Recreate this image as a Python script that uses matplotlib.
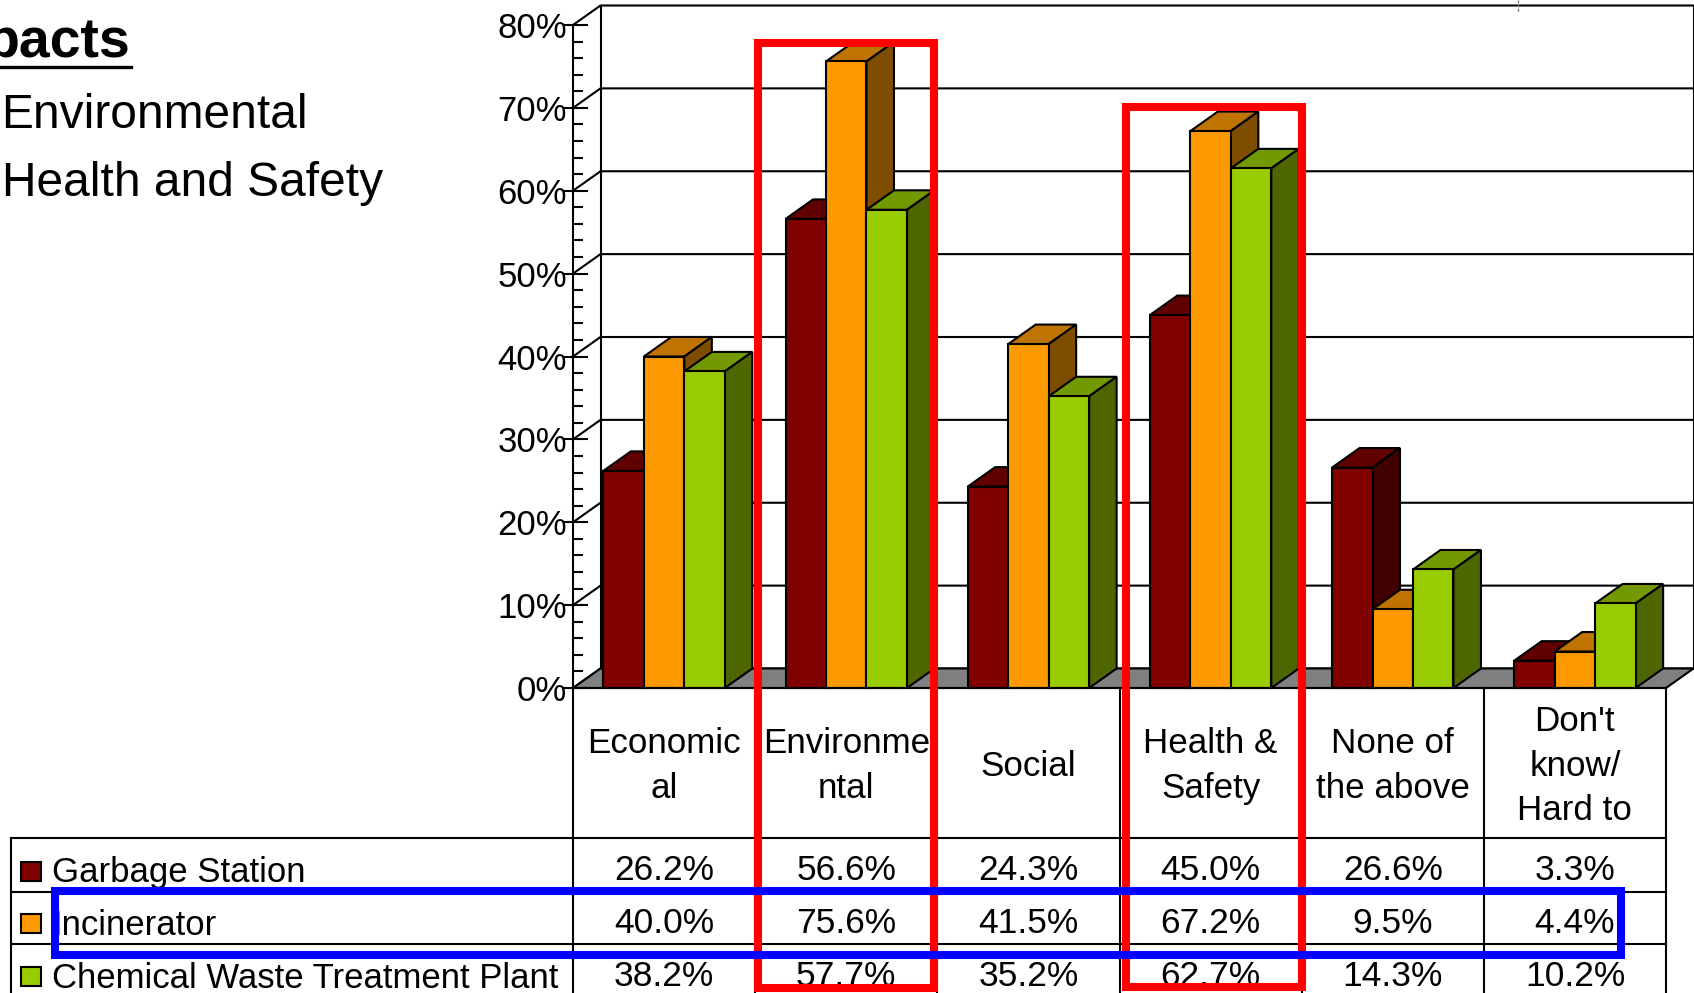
import matplotlib
matplotlib.use("Agg")
import matplotlib.pyplot as plt
from matplotlib.patches import Polygon, Rectangle
from matplotlib.ticker import MultipleLocator, FuncFormatter
from matplotlib.transforms import blended_transform_factory

plt.rcParams['font.family'] = ['Liberation Sans', 'DejaVu Sans']

categories = ["Economic\nal", "Environme\nntal", "Social", "Health &\nSafety",
              "None of\nthe above", "Don't\nknow/\nHard to"]
series_names = ["Garbage Station", "Incinerator", "Chemical Waste Treatment Plant"]
garbage = [26.2, 56.6, 24.3, 45.0, 26.6, 3.3]
incinerator = [40.0, 75.6, 41.5, 67.2, 9.5, 4.4]
chemical = [38.2, 57.7, 35.2, 62.7, 14.3, 10.2]
series_values = [garbage, incinerator, chemical]
impact_heading = "pacts"
impact_items = ["Environmental", "Health and Safety"]

front = ["#800000", "#FF9900", "#99CC00"]
top = ["#600000", "#BF7300", "#739900"]
side = ["#400000", "#7F4D00", "#4D6600"]

W, H = 1694, 993
fig = plt.figure(figsize=(W / 100, H / 100), dpi=100)
L, R, Y0, Y80 = 573, 1666, 688, 25
ax = fig.add_axes([L / W, 1 - Y0 / H, (R - L) / W, (Y0 - Y80) / H])
ax.set_xlim(0, 6)
ax.set_ylim(0, 80)
ax.patch.set_alpha(0)
px = 6 / (R - L)
py = 80 / (Y0 - Y80)
DX, DY = 27.5 * px, 19.5 * py
LW = 1.5

ov = fig.add_axes([0, 0, 1, 1], zorder=5)
ov.set_xlim(0, W)
ov.set_ylim(H, 0)
ov.axis("off")
ov.patch.set_alpha(0)

# walls and floor
ax.add_patch(Polygon([(0, 0), (DX, DY), (6 + DX, DY), (6, 0)], closed=True, fc="#808080",
                     ec="black", lw=LW, clip_on=False, zorder=1))
for v in range(0, 90, 10):
    ax.plot([0, DX, 6 + DX], [v, v + DY, v + DY], color="black", lw=LW, clip_on=False, zorder=0.5)
ax.plot([DX, DX], [DY, 80 + DY], color="black", lw=LW, clip_on=False, zorder=0.5)
ax.plot([6 + DX, 6 + DX], [DY, 80 + DY], color="black", lw=LW, clip_on=False, zorder=0.5)

# 3-D bars
bw = 1 / 4.5
z = 2
for c in range(len(categories)):
    x0 = c + 0.75 * bw
    for s, vals in enumerate(series_values):
        v = vals[c]
        a, b = x0 + s * bw, x0 + (s + 1) * bw
        for pts, col in (([(a, v), (a + DX, v + DY), (b + DX, v + DY), (b, v)], top[s]),
                         ([(b, 0), (b + DX, DY), (b + DX, v + DY), (b, v)], side[s]),
                         ([(a, 0), (a, v), (b, v), (b, 0)], front[s])):
            ax.add_patch(Polygon(pts, closed=True, fc=col, ec="black", lw=LW,
                                 joinstyle="miter", clip_on=False, zorder=z))
            z += 0.01

# axis
for sp in ("top", "right", "bottom"):
    ax.spines[sp].set_visible(False)
ax.spines["left"].set_linewidth(LW)
ax.set_xticks([])
ax.yaxis.set_major_locator(MultipleLocator(10))
ax.yaxis.set_minor_locator(MultipleLocator(2))
ax.yaxis.set_major_formatter(FuncFormatter(lambda v, p: f"{v:.0f}%"))
ax.tick_params(axis="y", which="major", direction="out", length=7.2, width=LW, pad=-3,
               labelsize=25, zorder=6)
ax.tick_params(axis="y", which="minor", direction="in", length=7.2, width=LW)
ax.hlines(range(0, 90, 10), 0, 15 * px, color="black", lw=LW, zorder=1.5, clip_on=False)

# data table
tk = dict(color="black", lw=1.5, zorder=1)
for yy in (838, 892, 944):
    ov.plot([11, R], [yy, yy], **tk)
ov.plot([11, 11], [838, H], **tk)
ov.plot([L, R], [Y0, Y0], **tk)
cat_x = blended_transform_factory(ax.transData, ov.transData)
for i in range(7):
    ov.plot([i, i], [Y0, H], transform=cat_x, **tk)
for i, name in enumerate(categories):
    ov.text(i + 0.5, 766, name, transform=cat_x, ha="center", va="center", fontsize=25.2,
            linespacing=1.45, zorder=2)
row_y = [870.5, 923.5, 976.5]
swatch_y = [862, 914, 967]
legend_x = [52, 53, 52]
for s, name in enumerate(series_names):
    ov.add_patch(Rectangle((21, swatch_y[s]), 20, 19, fc=front[s], ec="black", lw=1.5, zorder=2))
    ov.text(legend_x[s], row_y[s] + 2, name, ha="left", va="center", fontsize=25, zorder=2)
    for c, v in enumerate(series_values[s]):
        ov.text(c + 0.5, row_y[s], f"{v:.1f}%", transform=cat_x, ha="center", va="center",
                fontsize=25.5, zorder=2)

# left slide text
ov.text(-15, 57, impact_heading, fontsize=40, fontweight="bold", ha="left", va="baseline")
ov.plot([0, 131], [66.5, 66.5], color="black", lw=2.4, zorder=2)
ov.text(1.5, 127.5, impact_items[0], fontsize=34.5, ha="left", va="baseline")
ov.text(1.5, 196, impact_items[1], fontsize=34.5, ha="left", va="baseline")

# highlight frames
ov.add_patch(Rectangle((758, 43), 176, 944.5, fc="none", ec="#FF0000", lw=5.8, joinstyle="miter",
                       zorder=8))
ov.add_patch(Rectangle((1125.5, 107), 176.5, 880, fc="none", ec="#FF0000", lw=5.8, joinstyle="miter",
                       zorder=8))
ov.add_patch(Rectangle((55, 891), 1566, 63.5, fc="none", ec="#0000FF", lw=5.8, joinstyle="miter",
                       zorder=9))
# small mark at top edge
ov.plot([1518, 1518], [0, 11], color="#777777", lw=1.0, ls=(0, (2, 1)), zorder=1)

fig.savefig("out.png", dpi=100)
